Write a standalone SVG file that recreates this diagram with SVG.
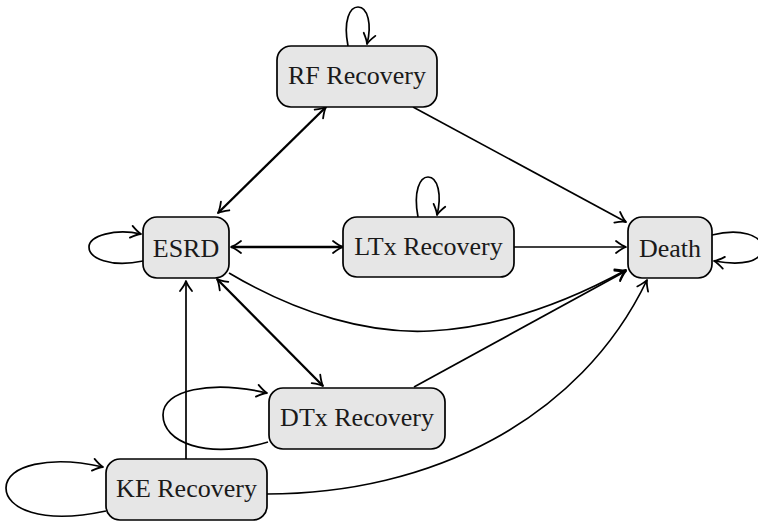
<svg xmlns="http://www.w3.org/2000/svg" width="758" height="521" viewBox="0 0 758 521">
<defs>
<marker id="arr" viewBox="-13 -8 15 16" markerWidth="15" markerHeight="16" refX="0" refY="0" orient="auto-start-reverse" markerUnits="userSpaceOnUse">
<path d="M-10,-6 Q-3.5,-1 0,0 Q-3.5,1 -10,6" fill="none" stroke="#000" stroke-width="1.8" stroke-linecap="round" stroke-linejoin="round"/>
</marker>
<style>
.node rect{fill:#e6e6e6;stroke:#000;stroke-width:1.7}
.node text{font-family:"Liberation Serif","DejaVu Serif",serif;font-size:26px;fill:#1a1a1a;text-anchor:middle}
.edges path{fill:none;stroke:#000;stroke-width:1.7}
.edges .bold{stroke-width:2.3}
</style>
</defs>
<rect width="758" height="521" fill="#fff"/>
<g class="edges">
<path d="M348,46 C343,20 350,7 358,7 C368,7 372,25 367,44" marker-end="url(#arr)"/>
<path d="M418,217 C413,191 420,177 428,177 C438,177 442,195 437,215" marker-end="url(#arr)"/>
<path d="M143,261 C110,268 89,258 89,247 C89,236 115,228 141,234" marker-end="url(#arr)"/>
<path d="M712,235 C740,228 762,235 762,248 C762,262 742,266 714,261" marker-end="url(#arr)"/>
<path d="M268,442 C205,460 163,442 163,415 C163,390 210,380 267,393" marker-end="url(#arr)"/>
<path d="M106,511 C40,525 6,508 6,488 C6,465 50,455 103,467" marker-end="url(#arr)"/>
<path class="bold" d="M218,213 L326,107" marker-start="url(#arr)" marker-end="url(#arr)"/>
<path d="M413,107 L626,222" marker-end="url(#arr)"/>
<path class="bold" d="M231,247 L343,247" marker-start="url(#arr)" marker-end="url(#arr)"/>
<path d="M514,247 L626,247" marker-end="url(#arr)"/>
<path d="M229,273 C300,315 370,334 430,331 C510,327 580,295 626,270" marker-end="url(#arr)"/>
<path class="bold" d="M217,279 L323,386" marker-start="url(#arr)" marker-end="url(#arr)"/>
<path d="M414,387 L626,271" marker-end="url(#arr)"/>
<path d="M186,459 L186,281" marker-end="url(#arr)"/>
<path d="M267,494 C430,494 580,420 647,280" marker-end="url(#arr)"/>
</g>
<g id="rf" class="node"><rect x="277" y="46" width="160" height="61" rx="14"/><text x="357" y="84">RF Recovery</text></g>
<g id="esrd" class="node"><rect x="143" y="217" width="86" height="61" rx="14"/><text x="186" y="257">ESRD</text></g>
<g id="ltx" class="node"><rect x="343" y="217" width="171" height="60" rx="14"/><text x="428.5" y="255">LTx Recovery</text></g>
<g id="death" class="node"><rect x="628" y="217" width="84" height="61" rx="14"/><text x="670" y="257">Death</text></g>
<g id="dtx" class="node"><rect x="269" y="388" width="176" height="61" rx="14"/><text x="357" y="426">DTx Recovery</text></g>
<g id="ke" class="node"><rect x="106" y="459" width="161" height="61" rx="14"/><text x="186.5" y="497">KE Recovery</text></g>
</svg>
